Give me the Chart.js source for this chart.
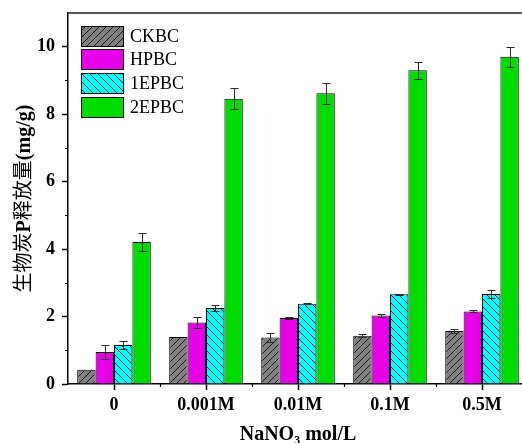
<!DOCTYPE html>
<html><head><meta charset="utf-8">
<script src="https://cdn.jsdelivr.net/npm/chart.js@4.4.0/dist/chart.umd.min.js"></script>
<style>
html,body{margin:0;padding:0;overflow:hidden;background:#fff;width:522px;height:443px}
#wrap{position:relative;width:540px;height:443px}
</style>
</head><body><div id="wrap"><canvas id="c" width="540" height="443"></canvas></div>
<script>
// ---- data ----
const categories = ['0', '0.001M', '0.01M', '0.1M', '0.5M'];
const seriesNames = ['CKBC', 'HPBC', '1EPBC', '2EPBC'];
const ckbc  = [0.42, 1.39, 1.38, 1.43, 1.57];
const hpbc  = [0.95, 1.82, 1.96, 2.03, 2.15];
const ep1   = [1.16, 2.25, 2.38, 2.66, 2.67];
const ep2   = [4.21, 8.46, 8.62, 9.30, 9.70];
const ckbcErr = [0.00, 0.00, 0.13, 0.04, 0.07];
const hpbcErr = [0.22, 0.16, 0.04, 0.04, 0.03];
const ep1Err  = [0.11, 0.08, 0.02, 0.02, 0.11];
const ep2Err  = [0.28, 0.32, 0.31, 0.26, 0.29];
const yTicks = [0, 2, 4, 6, 8, 10];
const yMinorTicks = [1, 3, 5, 7, 9];
const xTitle = 'NaNO\u2083 mol/L';
const yTitleParts = [['生物炭', 'cjk'], ['P', 'latin'], ['释放量', 'cjk'], ['(mg/g)', 'latin']];

// ---- patterns ----
function hatch(bg, dir, size) {
  const c = document.createElement('canvas');
  c.width = size; c.height = size;
  const g = c.getContext('2d');
  g.fillStyle = bg; g.fillRect(0, 0, size, size);
  g.strokeStyle = '#1a1a1a'; g.lineWidth = 1;
  g.beginPath();
  if (dir > 0) {
    g.moveTo(0, size); g.lineTo(size, 0);
    g.moveTo(-1, 1); g.lineTo(1, -1);
    g.moveTo(size - 1, size + 1); g.lineTo(size + 1, size - 1);
  } else {
    g.moveTo(0, 0); g.lineTo(size, size);
    g.moveTo(-1, size - 1); g.lineTo(1, size + 1);
    g.moveTo(size - 1, -1); g.lineTo(size + 1, 1);
  }
  g.stroke();
  return g.createPattern(c, 'repeat');
}
const greyFill = hatch('#808080', 1, 7);
const cyanFill = hatch('#00ffff', -1, 8);
const magentaFill = '#e800e8';
const greenFill = '#00dc00';

const errs = [ckbcErr, hpbcErr, ep1Err, ep2Err];

const errorBars = {
  id: 'errorBars',
  afterDatasetsDraw(chart) {
    const ctx = chart.ctx, ys = chart.scales.y;
    ctx.save();
    ctx.strokeStyle = '#2a2a2a'; ctx.lineWidth = 1;
    chart.data.datasets.forEach((ds, di) => {
      const meta = chart.getDatasetMeta(di);
      meta.data.forEach((bar, i) => {
        const e = errs[di][i];
        if (!e) return;
        const v = ds.data[i];
        const yt = Math.round(ys.getPixelForValue(v + e)) + 0.5;
        const yb = Math.round(ys.getPixelForValue(v - e)) + 0.5;
        const x = Math.round(bar.x) + 0.5;
        ctx.beginPath();
        ctx.moveTo(x, yt); ctx.lineTo(x, yb);
        ctx.moveTo(x - 4, yt); ctx.lineTo(x + 4, yt);
        ctx.moveTo(x - 4, yb); ctx.lineTo(x + 4, yb);
        ctx.stroke();
      });
    });
    ctx.restore();
  }
};

const frameAndExtras = {
  id: 'frameAndExtras',
  afterDraw(chart) {
    const {ctx, chartArea: a} = chart;
    const xs = chart.scales.x, ys = chart.scales.y;
    ctx.save();
    // frame top and right
    ctx.strokeStyle = '#222'; ctx.lineWidth = 1.5;
    ctx.beginPath();
    ctx.moveTo(a.left, a.top); ctx.lineTo(a.right, a.top); ctx.lineTo(a.right, a.bottom);
    ctx.stroke();
    // minor ticks
    ctx.strokeStyle = '#000'; ctx.lineWidth = 1.2;
    ctx.beginPath();
    yMinorTicks.forEach(v => {
      const y = Math.round(ys.getPixelForValue(v)) + 0.5;
      ctx.moveTo(a.left - 3, y); ctx.lineTo(a.left, y);
    });
    for (let i = 0; i < categories.length - 1; i++) {
      const x = Math.round((xs.getPixelForValue(i) + xs.getPixelForValue(i + 1)) / 2) + 0.5;
      ctx.moveTo(x, a.bottom); ctx.lineTo(x, a.bottom + 3);
    }
    ctx.stroke();
    // legend
    const x0 = a.left + 13, y0 = a.top + 12.5;
    chart.data.datasets.forEach((ds, i) => {
      const y = Math.round(y0 + i * 23.8);
      ctx.fillStyle = ds.backgroundColor;
      ctx.fillRect(x0, y, 42, 20);
      ctx.strokeStyle = '#000'; ctx.lineWidth = 1;
      ctx.strokeRect(x0 + 0.5, y + 0.5, 42, 20);
      ctx.fillStyle = '#000';
      ctx.font = '18px "Liberation Serif"';
      ctx.textBaseline = 'middle'; ctx.textAlign = 'left';
      ctx.fillText(ds.label, x0 + 49, y + 11);
    });
    // y axis title (mixed fonts)
    const fonts = {cjk: '20px "Noto Sans CJK SC"', latin: 'bold 20px "Liberation Serif"'};
    let total = 0;
    const widths = yTitleParts.map(([t, f]) => { ctx.font = fonts[f]; const w = ctx.measureText(t).width; total += w; return w; });
    ctx.translate(22.5, (a.top + a.bottom) / 2);
    ctx.rotate(-Math.PI / 2);
    ctx.fillStyle = '#000'; ctx.textBaseline = 'alphabetic'; ctx.textAlign = 'left';
    let u = -total / 2;
    yTitleParts.forEach(([t, f], i) => {
      ctx.font = fonts[f];
      ctx.fillText(t, u, 7);
      u += widths[i];
    });
    ctx.restore();
  }
};

const tickFont = {family: 'Liberation Serif', size: 18, weight: 'bold'};

new Chart(document.getElementById('c'), {
  type: 'bar',
  data: {
    labels: categories,
    datasets: [
      {label: seriesNames[0], data: ckbc, backgroundColor: greyFill},
      {label: seriesNames[1], data: hpbc, backgroundColor: magentaFill},
      {label: seriesNames[2], data: ep1, backgroundColor: cyanFill},
      {label: seriesNames[3], data: ep2, backgroundColor: greenFill}
    ].map(d => Object.assign(d, {borderColor: '#000', borderWidth: 1, categoryPercentage: 0.8, barPercentage: 1}))
  },
  options: {
    responsive: false,
    animation: false,
    devicePixelRatio: 1,
    layout: {padding: {top: 13, right: 12, bottom: 0, left: 0}},
    plugins: {legend: {display: false}, tooltip: {enabled: false}, title: {display: false}},
    scales: {
      x: {
        type: 'category',
        offset: true,
        grid: {display: true, drawOnChartArea: false, drawTicks: true, tickLength: 6, tickColor: '#000', tickWidth: 1.5, offset: false},
        border: {display: true, color: '#000', width: 1.5},
        ticks: {font: tickFont, color: '#000', padding: 5, maxRotation: 0, autoSkip: false},
        title: {display: true, text: xTitle, color: '#000', font: {family: 'Liberation Serif', size: 20, weight: 'bold'}, padding: {top: 0, bottom: -4}},
        afterFit(s) { s.height = 59; s.paddingLeft = 0; s.paddingRight = 0; }
      },
      y: {
        min: 0, max: 11,
        afterBuildTicks(s) { s.ticks = yTicks.map(v => ({value: v})); },
        grid: {display: true, drawOnChartArea: false, drawTicks: true, tickLength: 6, tickColor: '#000', tickWidth: 1.5},
        border: {display: true, color: '#000', width: 1.5},
        ticks: {font: tickFont, color: '#000', padding: 7},
        afterFit(s) { s.width = 68; s.paddingTop = 0; s.paddingBottom = 0; }
      }
    }
  },
  plugins: [errorBars, frameAndExtras]
});
</script>
</body></html>
